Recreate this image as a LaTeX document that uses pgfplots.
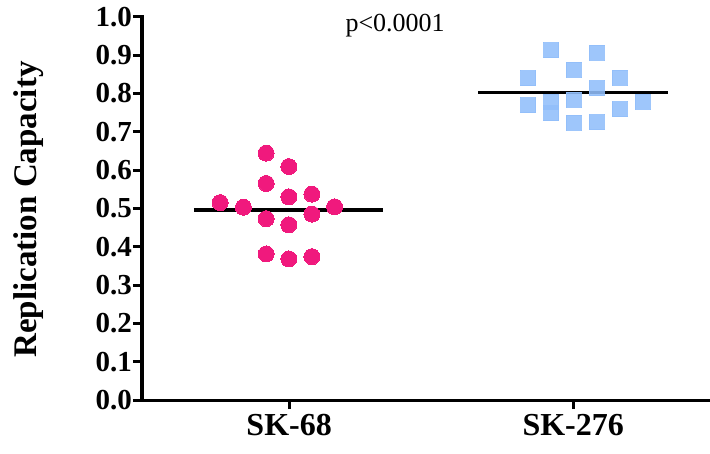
\documentclass[border=0pt]{standalone}
\usepackage{pgfplots}
\pgfplotsset{compat=1.18}
\usepackage{fontspec}
\setmainfont{Liberation Serif}
\definecolor{pinkc}{RGB}{240,25,125}
\definecolor{bluec}{RGB}{145,190,250}
\begin{document}
\begin{tikzpicture}
\begin{axis}[name=ax, scale only axis, width=567pt, height=383.3pt,
  xmin=0.482, xmax=2.478, ymin=0, ymax=1.0,
  axis x line*=bottom, axis y line*=left,
  axis line style={-, line width=3pt, line cap=rect},
  ytick={0,0.1,0.2,0.3,0.4,0.5,0.6,0.7,0.8,0.9,1.0},
  yticklabel style={/pgf/number format/fixed, /pgf/number format/fixed zerofill, /pgf/number format/precision=1, /pgf/number format/assume math mode=true},
  yticklabel style={font=\fontsize{29}{29}\selectfont\bfseries, inner xsep=1pt},
  xtick={1,2}, xticklabels={SK-68,SK-276},
  xticklabel style={font=\fontsize{32}{32}\selectfont\bfseries, inner ysep=2pt, yshift=-3pt},
  tick style={line width=3pt, black}, major tick length=9pt, tick align=outside,
  ylabel={Replication Capacity},
  every axis y label/.style={at={(axis description cs:0,0.497)}, xshift=-113pt, rotate=90, anchor=center, font=\fontsize{33}{33}\selectfont\bfseries},
  clip=false,
]
% SK-68
\addplot[only marks, pinkc, mark=*, mark size=8pt, mark options={fill=pinkc, draw=pinkc, line width=0pt}] coordinates {
(0.919,0.644) (0.999,0.609) (0.919,0.565) (0.999,0.530) (1.080,0.537)
(0.757,0.515) (0.839,0.503) (1.160,0.504) (0.919,0.473) (1.080,0.485)
(0.999,0.457) (0.919,0.381) (0.999,0.368) (1.080,0.374)};
% means
\addplot[black, line width=3.5pt] coordinates {(0.665,0.496) (1.331,0.496)};
\addplot[black, line width=3.5pt] coordinates {(1.665,0.802) (2.335,0.802)};
% SK-276
\addplot[only marks, bluec, mark=square*, mark size=7.5pt, mark options={fill=bluec, draw=bluec, line width=0pt, opacity=0.88}] coordinates {
(1.923,0.913) (2.083,0.906) (2.001,0.861) (1.842,0.839) (2.163,0.841)
(2.083,0.813) (1.842,0.769) (1.923,0.778) (1.923,0.748) (2.001,0.783)
(2.163,0.758) (2.244,0.778) (2.001,0.723) (2.083,0.725)};
\node[font=\fontsize{26}{26}\selectfont, anchor=base] at (axis cs:1.373,0.961) {p<0.0001};
\end{axis}
\pgfresetboundingbox
\path ([xshift=-142pt,yshift=-53pt]ax.south west) rectangle ([xshift=1pt,yshift=16.7pt]ax.north east);
\end{tikzpicture}
\end{document}
